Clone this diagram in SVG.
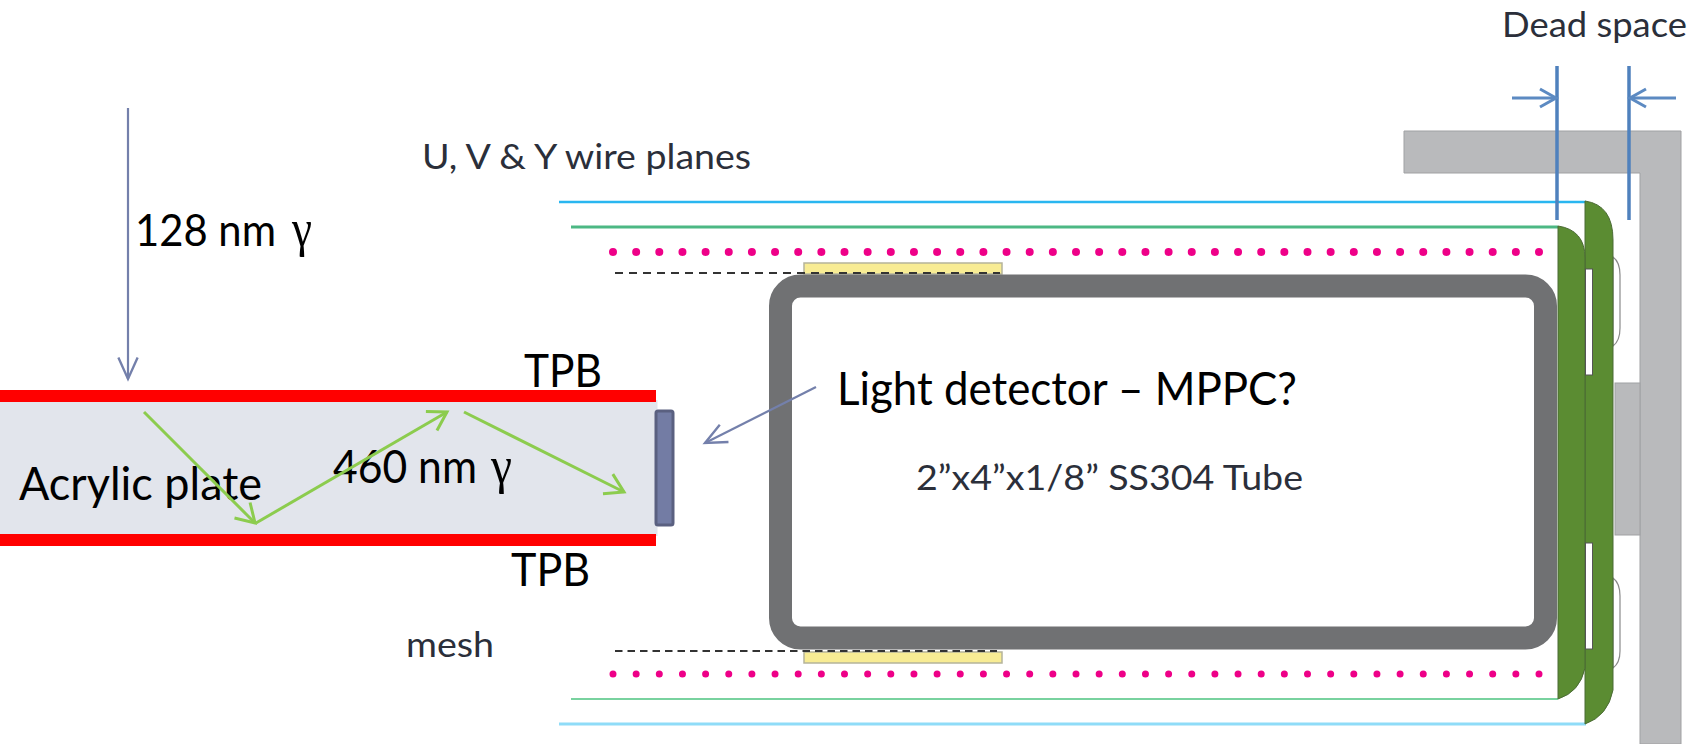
<svg xmlns="http://www.w3.org/2000/svg" width="1695" height="744" viewBox="0 0 1695 744">
<style>
.big{font-family:"Lato","Open Sans",sans-serif;font-size:47px;fill:#000}
.gam{font-family:"Liberation Serif",serif;font-size:52px;fill:#000}
.small{font-family:"Lato","Open Sans",sans-serif;fill:#2b2f3a;font-size:34px}
.gray{fill:#b9babc;stroke:#a0a1a3;stroke-width:1}
.plate{fill:#5b8c32;stroke:#4b6b35;stroke-width:1}
.cut{fill:#fff;stroke:#555;stroke-width:1}
.bump{fill:#fff;stroke:#8a8a8a;stroke-width:1.2}
.red{fill:#f00}
.ray{fill:none;stroke:#8ccc4e;stroke-width:3;marker-end:url(#ga)}
.dim{fill:none;stroke:#4f81bd;stroke-width:3.5}
.dimarrow{fill:none;stroke:#5c8ac2;stroke-width:3;marker-end:url(#ba)}
.ptr{fill:none;stroke:#7480ab;stroke-width:2.2;marker-end:url(#pa)}
.dots{fill:none;stroke:#ee0088;stroke-linecap:round}
.dash{fill:none;stroke:#333;stroke-width:2}
.yellow{fill:#f8ec94;stroke:#b5b49a;stroke-width:1.5}
</style>
<defs>
<marker id="ga" markerUnits="userSpaceOnUse" markerWidth="34" markerHeight="34" refX="24" refY="14" orient="auto" viewBox="0 0 34 28"><path d="M6 3 L24 14 L6 25" fill="none" stroke="#8ccc4e" stroke-width="3"/></marker>
<marker id="ba" markerUnits="userSpaceOnUse" markerWidth="24" markerHeight="24" refX="20" refY="12" orient="auto" viewBox="0 0 24 24"><path d="M4 3 L20 12 L4 21" fill="none" stroke="#5c8ac2" stroke-width="3"/></marker>
<marker id="pa" markerUnits="userSpaceOnUse" markerWidth="30" markerHeight="30" refX="24" refY="12" orient="auto" viewBox="0 0 28 24"><path d="M4 3 L24 12 L4 21" fill="none" stroke="#7480ab" stroke-width="2.2"/></marker>
</defs>
<rect width="1695" height="744" fill="#fff"/>

<g id="support">
<path class="gray" d="M1404 131H1681V744H1640V173H1404Z"/>
<rect class="gray" x="1615" y="383" width="25" height="152"/>
</g>

<g id="wire-planes">
<path d="M559 202H1586" stroke="#29b6f0" stroke-width="2.5"/>
<path d="M571 227H1558" stroke="#4cb884" stroke-width="3"/>
<path d="M613 252H1540" class="dots" stroke-width="8" stroke-dasharray="0 23.15"/>
<path d="M613 674H1540" class="dots" stroke-width="7" stroke-dasharray="0 23.15"/>
<path d="M571 699H1558" stroke="#79d29f" stroke-width="2"/>
<path d="M559 724H1586" stroke="#8fdcf8" stroke-width="3"/>
</g>

<g id="mesh-strips">
<rect class="yellow" x="804" y="263" width="198" height="11"/>
<rect class="yellow" x="804" y="652" width="198" height="11"/>
<path class="dash" d="M615 273H1000" stroke-dasharray="8 6"/>
<path class="dash" d="M615 651H997" stroke-dasharray="7.5 5"/>
</g>

<g id="tube">
<rect x="780.5" y="286" width="765" height="352" rx="20" fill="#fff" stroke="#707173" stroke-width="23"/>
</g>

<g id="boards">
<path class="bump" d="M1613 257Q1620 262 1620 275V328Q1620 341 1613 346Z"/>
<path class="bump" d="M1613 578Q1620 583 1620 596V651Q1620 663 1613 668Z"/>
<path class="plate" d="M1585 201Q1613 205 1613 240V690Q1608 716 1585 724Z"/>
<path class="plate" d="M1558 226Q1585 230 1585 258V668Q1580 692 1558 699Z"/>
<rect class="cut" x="1585.5" y="269" width="7" height="106"/>
<rect class="cut" x="1585.5" y="543" width="7" height="106"/>
</g>

<g id="acrylic-plate">
<rect x="0" y="400" width="657.5" height="136" fill="#e2e5ec"/>
<rect class="red" x="0" y="390" width="656" height="12"/>
<rect class="red" x="0" y="534" width="656" height="12"/>
<text class="big" x="19" y="500" textLength="243" lengthAdjust="spacingAndGlyphs">Acrylic plate</text>
</g>

<g id="light-detector">
<rect x="656" y="411" width="17" height="114" rx="2" fill="#737ca4" stroke="#5a6080" stroke-width="3"/>
</g>

<g id="labels">
<text class="big" x="135" y="246" font-size="45" style="font-size:45px" textLength="141" lengthAdjust="spacingAndGlyphs">128 nm</text>
<text class="gam" x="292" y="246" textLength="20" lengthAdjust="spacingAndGlyphs">γ</text>
<text class="big" x="524" y="387" textLength="78" lengthAdjust="spacingAndGlyphs">TPB</text>
<text class="big" x="511" y="586" textLength="79" lengthAdjust="spacingAndGlyphs">TPB</text>
<text class="big" x="333" y="483" textLength="144" lengthAdjust="spacingAndGlyphs">460 nm</text>
<text class="gam" x="491" y="483" textLength="21" lengthAdjust="spacingAndGlyphs">γ</text>
<text class="big" x="837" y="405" textLength="460" lengthAdjust="spacingAndGlyphs">Light detector – MPPC?</text>
<text class="small" x="916" y="490" textLength="387" lengthAdjust="spacingAndGlyphs">2”x4”x1/8” SS304 Tube</text>
<text class="small" x="422" y="169" textLength="329" lengthAdjust="spacingAndGlyphs">U, V &amp; Y wire planes</text>
<text class="small" x="406" y="657" textLength="88" lengthAdjust="spacingAndGlyphs">mesh</text>
<text class="small" x="1502" y="37" textLength="185" lengthAdjust="spacingAndGlyphs">Dead space</text>
</g>

<g id="connectors">
<path class="ptr" d="M128 108V379"/>
<path class="ptr" d="M816 387L705 443"/>
<path class="ray" d="M144 412L255 523"/>
<path class="ray" d="M256 523L447 412"/>
<path class="ray" d="M464 412L624 492"/>
<path class="dim" d="M1557 66V220"/>
<path class="dim" d="M1629 66V220"/>
<path class="dimarrow" d="M1512 98H1556"/>
<path class="dimarrow" d="M1676 98H1630"/>
</g>
</svg>
